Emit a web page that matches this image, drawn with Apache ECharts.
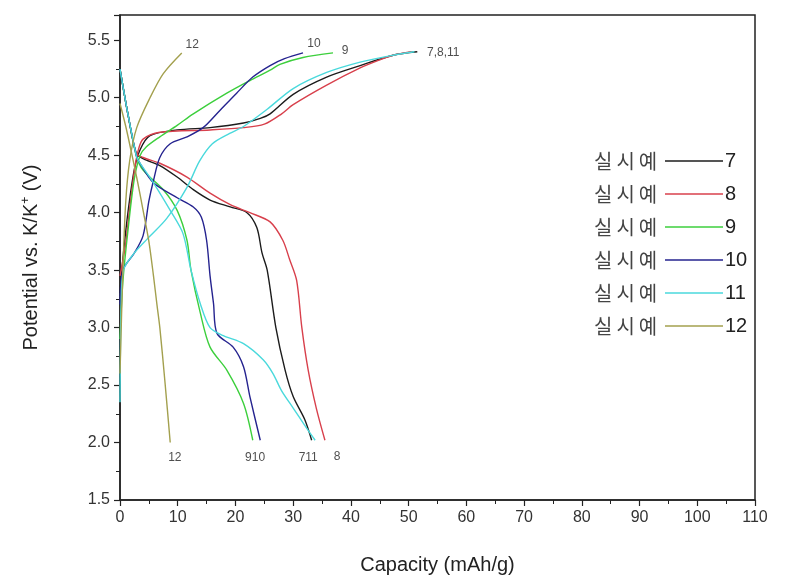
<!DOCTYPE html>
<html>
<head>
<meta charset="utf-8">
<script src="https://cdn.jsdelivr.net/npm/echarts@6/dist/echarts.min.js"></script>
<style>
  html, body { margin: 0; padding: 0; background: #fff; }
  #chart { width: 790px; height: 580px; }
</style>
</head>
<body>
<div id="chart"></div>
<script>
// sample names and colours
var names = ['7', '8', '9', '10', '11', '12'];
var colors = ['#1c1c1c', '#d8404c', '#3ccf3c', '#25238f', '#4ad9dc', '#a3a04e'];

// charge curves [capacity, potential]
var charge7 = [[0,3.3],[0.6,3.65],[1.5,4.05],[2.5,4.38],[3.5,4.55],[5.2,4.67],[9.9,4.72],[15.6,4.74],[21.4,4.78],[24.3,4.82],[26,4.86],[30,5.03],[35.8,5.18],[41.6,5.28],[47.3,5.37],[51.5,5.4]];
var charge8 = [[0,3.45],[0.9,3.7],[1.7,4.05],[2.6,4.4],[3.2,4.55],[4,4.64],[6.9,4.7],[15.6,4.72],[21.4,4.74],[25,4.77],[28,4.86],[30,4.94],[35.8,5.11],[41.6,5.26],[45,5.33],[47.3,5.37],[50.5,5.4]];
var charge9 = [[0,2.9],[0.5,3.4],[1.5,3.9],[2.5,4.3],[3.5,4.5],[4.5,4.57],[6.9,4.66],[9.9,4.76],[12.7,4.86],[18.5,5.04],[22.5,5.15],[26,5.24],[27.7,5.29],[31.7,5.35],[36.9,5.39]];
var charge10 = [[0,3.2],[0.5,3.5],[2.5,3.65],[4,3.8],[5,4.1],[5.8,4.28],[6.9,4.48],[8.7,4.6],[11.6,4.66],[14.4,4.74],[17.3,4.89],[20.2,5.04],[23,5.18],[26,5.28],[28.5,5.34],[31.7,5.39]];
var charge11 = [[0,2.35],[0.2,3.2],[0.6,3.5],[2.5,3.65],[4.7,3.77],[8.1,3.95],[11.6,4.22],[13.8,4.45],[16,4.6],[19,4.69],[21.4,4.75],[25.5,4.9],[30,5.08],[35.8,5.22],[41.6,5.31],[47.3,5.37],[51,5.4]];
var charge12 = [[0,2.6],[0.5,3.5],[1,4.1],[1.7,4.46],[2.9,4.74],[5.2,5.0],[7.5,5.21],[10.7,5.39]];

// discharge curves [capacity, potential]
var dis7 = [[0,5.25],[1.4,4.85],[2.8,4.52],[4,4.47],[6.9,4.41],[9.9,4.31],[12.7,4.2],[15.6,4.11],[19.1,4.05],[22,4.0],[23.7,3.87],[24.6,3.65],[25.5,3.5],[27,3.0],[28.6,2.63],[30,2.4],[32,2.2],[33.2,2.02]];
var dis8 = [[0,5.25],[1.4,4.85],[2.8,4.52],[4,4.48],[6.9,4.43],[11.6,4.31],[15.6,4.17],[19.1,4.07],[22.5,4.0],[26,3.92],[28.2,3.76],[29.4,3.59],[30.6,3.41],[31.5,3.0],[32.6,2.63],[34,2.3],[35.5,2.02]];
var dis9 = [[0,5.25],[1.4,4.85],[2.8,4.5],[4,4.37],[7.5,4.2],[9.9,4.02],[11.6,3.76],[12.3,3.5],[13.9,3.13],[15.6,2.83],[18.5,2.63],[21.4,2.34],[23,2.02]];
var dis10 = [[0,5.25],[1.4,4.85],[2.8,4.5],[3.1,4.46],[5.8,4.26],[9.9,4.13],[12.7,4.05],[14.1,3.96],[15,3.76],[15.6,3.45],[16.2,3.21],[16.8,2.95],[19.6,2.83],[21.4,2.66],[22.5,2.4],[24.3,2.02]];
var dis11 = [[0,5.25],[1.4,4.85],[2.8,4.5],[3.1,4.46],[5.8,4.26],[8.7,4.02],[10.9,3.82],[12.3,3.5],[13.9,3.21],[15.6,3.0],[17.9,2.93],[21.4,2.86],[24.8,2.72],[26.5,2.6],[28,2.45],[30,2.3],[32,2.15],[33.8,2.02]];
var dis12 = [[0,4.95],[1,4.75],[2,4.52],[3,4.28],[4,4.02],[5,3.75],[5.8,3.45],[6.4,3.2],[6.9,3.0],[7.8,2.52],[8.7,2.0]];

// curve end labels [text, capacity, potential]
var endLabels = [['12',12.5,5.46],['10',33.6,5.47],['9',39,5.41],['7,8,11',56,5.39],
                 ['12',9.5,1.87],['910',23.4,1.87],['711',32.6,1.87],['8',37.6,1.88]];

var chargeSets = [charge7, charge8, charge9, charge10, charge11, charge12];
var disSets = [dis7, dis8, dis9, dis10, dis11, dis12];

var chart = echarts.init(document.getElementById('chart'));

var series = [];
for (var i = 0; i < names.length; i++) {
    [chargeSets[i], disSets[i]].forEach(function(d) {
        series.push({
            name: names[i],
            type: 'line',
            data: d,
            symbol: 'none',
            smooth: 0.3,
            lineStyle: { color: colors[i], width: 1.4 },
            itemStyle: { color: colors[i] },
            z: 3
        });
    });
}
series.push({
    type: 'scatter',
    symbolSize: 0,
    silent: true,
    data: endLabels.map(function(l) { return { name: l[0], value: [l[1], l[2]] }; }),
    label: {
        show: true,
        position: 'inside',
        formatter: '{b}',
        fontFamily: 'Liberation Sans, Arial',
        fontSize: 12,
        color: '#222'
    }
});

var option = {
    animation: false,
    backgroundColor: '#fff',
    grid: {
        left: 120, right: 35, top: 15, bottom: 80,
        show: true,
        borderColor: '#222',
        borderWidth: 1.5
    },
    legend: [
        {
            data: names,
            orient: 'vertical',
            left: 584,
            top: 145,
            itemWidth: 0,
            itemHeight: 2,
            itemGap: 11,
            icon: 'rect',
            itemStyle: { opacity: 0 },
            selectedMode: false,
            formatter: function() { return '실\u2009시\u2009예'; },
            textStyle: { fontFamily: 'Noto Sans CJK KR', fontSize: 20, color: '#444', lineHeight: 22 }
        },
        {
            data: names,
            orient: 'vertical',
            left: 660,
            top: 145,
            itemWidth: 58,
            itemHeight: 1.6,
            itemGap: 11,
            icon: 'rect',
            selectedMode: false,
            textStyle: { fontFamily: 'Liberation Sans, Arial', fontSize: 20, color: '#222', lineHeight: 22, padding: [0, 0, 0, -3] }
        }
    ],
    xAxis: {
        type: 'value',
        min: 0,
        max: 110,
        interval: 10,
        name: 'Capacity (mAh/g)',
        nameLocation: 'middle',
        nameGap: 55,
        nameTextStyle: { fontFamily: 'Liberation Sans, Arial', fontSize: 20, color: '#222' },
        axisLine: { show: true, lineStyle: { color: '#222', width: 1.5 } },
        axisTick: { show: true, length: 6, lineStyle: { color: '#222', width: 1.2 } },
        minorTick: { show: true, splitNumber: 2, length: 4, lineStyle: { color: '#222' } },
        splitLine: { show: false },
        axisLabel: { fontFamily: 'Liberation Sans, Arial', fontSize: 16, color: '#333', margin: 10 }
    },
    yAxis: {
        type: 'value',
        min: 1.5,
        max: 5.72,
        interval: 0.5,
        name: '{a|Potential vs. K/K}{s|+}{a| (V)}',
        nameLocation: 'middle',
        nameRotate: 90,
        nameGap: 78,
        nameTextStyle: {
            rich: {
                a: { fontFamily: 'Liberation Sans, Arial', fontSize: 20, color: '#222' },
                s: { fontFamily: 'Liberation Sans, Arial', fontSize: 12, color: '#222', verticalAlign: 'top', padding: [0, 0, 10, 0] }
            }
        },
        axisLine: { show: true, lineStyle: { color: '#222', width: 1.5 } },
        axisTick: { show: true, length: 6, lineStyle: { color: '#222', width: 1.2 } },
        minorTick: { show: true, splitNumber: 2, length: 4, lineStyle: { color: '#222' } },
        splitLine: { show: false },
        axisLabel: {
            fontFamily: 'Liberation Sans, Arial',
            fontSize: 16,
            color: '#333',
            margin: 10,
            showMaxLabel: false,
            formatter: function(v) { return v.toFixed(1); }
        }
    },
    series: series
};

chart.setOption(option);
</script>
</body>
</html>
